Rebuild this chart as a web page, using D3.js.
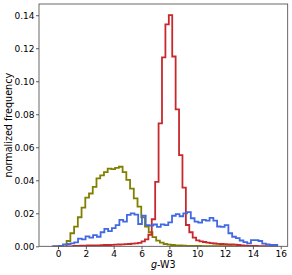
<!DOCTYPE html>
<html>
<head>
<meta charset="utf-8">
<script src="https://cdn.jsdelivr.net/npm/d3@7"></script>
<style>
  html, body { margin: 0; padding: 0; background: #fff; }
  svg { display: block; }
  text { font-family: "DejaVu Sans", sans-serif; fill: #000; }
</style>
</head>
<body>
<svg id="chart" width="292" height="275"></svg>
<script>
// ---- data ----
const xTicks = [0, 2, 4, 6, 8, 10, 12, 14, 16];
const yTicks = [0, 0.02, 0.04, 0.06, 0.08, 0.10, 0.12, 0.14];

// olive histogram
const oliveBinStart = 0.62;
const oliveBinWidth = 0.268;
const oliveValues = [0.0032, 0.0079, 0.0119, 0.0176, 0.0234, 0.0295, 0.0320, 0.0360, 0.0412, 0.0430,
  0.0450, 0.0470, 0.0467, 0.0475, 0.0482, 0.0450, 0.0402, 0.0350, 0.0290, 0.0240,
  0.0176, 0.0119, 0.0085, 0.0055, 0.0034, 0.0022, 0.0014, 0.0010, 0.0008, 0.0006,
  0.0005, 0.0004, 0.0003, 0.0003, 0.0002, 0.0002, 0.0001, 0.0001, 0.0001, 0.0001,
  0.0001, 0.0001, 0.0001, 0.0001, 0.0000, 0.0000];

// red histogram
const redBinStart = -0.37;
const redBinWidth = 0.245;
const redValues = [0, 0, 0, 0, 0, 0, 0.0002, 0.0003, 0.0004, 0.0004,
  0.0005, 0.0005, 0.0006, 0.0006, 0.0007, 0.0008, 0.0008, 0.0009, 0.0010, 0.0011,
  0.0012, 0.0013, 0.0014, 0.0016, 0.0018, 0.0021, 0.0030, 0.0042, 0.0070, 0.0164,
  0.0390, 0.0745, 0.1145, 0.1345, 0.1400, 0.1150, 0.0830, 0.0553, 0.0355, 0.0129,
  0.0085, 0.0052, 0.0036, 0.0030, 0.0026, 0.0022, 0.0019, 0.0017, 0.0015, 0.0014,
  0.0013, 0.0012, 0.0011, 0.0010, 0.0008, 0.0006, 0.0004, 0.0003, 0.0002, 0.0002,
  0.0001, 0.0001, 0.0001, 0, 0, 0];

// blue histogram
const blueBinStart = -0.45;
const blueBinWidth = 0.27;
const blueValues = [0, 0, 0.0003, 0.0012, 0.0014, 0.0018, 0.0024, 0.0046, 0.0042, 0.0060,
  0.0052, 0.0068, 0.0058, 0.0085, 0.0105, 0.0092, 0.0110, 0.0128, 0.0160, 0.0150,
  0.0190, 0.0200, 0.0192, 0.0135, 0.0186, 0.0128, 0.0125, 0.0132, 0.0118, 0.0133,
  0.0128, 0.0145, 0.0185, 0.0195, 0.0182, 0.0200, 0.0207, 0.0170, 0.0150, 0.0143,
  0.0160, 0.0155, 0.0172, 0.0155, 0.0120, 0.0118, 0.0128, 0.0079, 0.0058, 0.0050,
  0.0035, 0.0025, 0.0018, 0.0038, 0.0038, 0.0032, 0.0016, 0.0012, 0.0008, 0.0008];

// ---- layout ----
const W = 292, H = 275;
const margin = { left: 39, top: 4, right: 4.3, bottom: 28.7 };
const svg = d3.select("#chart");

const x = d3.scaleLinear().domain([-1.365, 16.50]).range([margin.left, W - margin.right]);
const y = d3.scaleLinear().domain([0, 0.1468]).range([H - margin.bottom, margin.top]);

svg.append("defs").append("clipPath").attr("id", "clip")
  .append("rect")
  .attr("x", margin.left).attr("y", margin.top)
  .attr("width", W - margin.left - margin.right)
  .attr("height", H - margin.top - margin.bottom);

function stepPoints(start, width, values) {
  const pts = [];
  pts.push([start, 0]);
  values.forEach((v, i) => {
    pts.push([start + i * width, v]);
    pts.push([start + (i + 1) * width, v]);
  });
  pts.push([start + values.length * width, 0]);
  return pts;
}

const line = d3.line().x(d => x(d[0])).y(d => y(d[1]));

const series = [
  { start: oliveBinStart, width: oliveBinWidth, values: oliveValues, color: "#808000" },
  { start: redBinStart, width: redBinWidth, values: redValues, color: "#c8282d" },
  { start: blueBinStart, width: blueBinWidth, values: blueValues, color: "#4169e1" }
];

const g = svg.append("g").attr("clip-path", "url(#clip)");
series.forEach(s => {
  g.append("path")
    .attr("d", line(stepPoints(s.start, s.width, s.values)))
    .attr("fill", "none")
    .attr("stroke", s.color)
    .attr("stroke-width", 1.8)
    .attr("stroke-linejoin", "miter");
});

// axes
const xAxis = d3.axisBottom(x).tickValues(xTicks).tickSize(3).tickPadding(1.5).tickFormat(d3.format("d"));
const yAxis = d3.axisLeft(y).tickValues(yTicks).tickSize(3).tickPadding(1.5).tickFormat(d3.format(".2f"));

const gx = svg.append("g").attr("transform", `translate(0,${H - margin.bottom})`).call(xAxis);
const gy = svg.append("g").attr("transform", `translate(${margin.left},0)`).call(yAxis);
[gx, gy].forEach(a => {
  a.select(".domain").remove();
  a.selectAll(".tick line").attr("stroke", "#333").attr("stroke-width", 0.8);
  a.selectAll(".tick text").attr("font-size", 9).attr("font-family", "DejaVu Sans").attr("fill", "#000");
});

// frame
svg.append("rect")
  .attr("x", margin.left).attr("y", margin.top)
  .attr("width", W - margin.left - margin.right)
  .attr("height", H - margin.top - margin.bottom)
  .attr("fill", "none").attr("stroke", "#444").attr("stroke-width", 0.8);

// labels
const xl = svg.append("text")
  .attr("x", (margin.left + W - margin.right) / 2)
  .attr("y", 268)
  .attr("text-anchor", "middle")
  .attr("font-size", 9.6);
xl.append("tspan").attr("font-style", "italic").text("g");
xl.append("tspan").text("-W3");

svg.append("text")
  .attr("transform", `translate(12,${(margin.top + H - margin.bottom) / 2}) rotate(-90)`)
  .attr("text-anchor", "middle")
  .attr("font-size", 9.6)
  .text("normalized frequency");
</script>
</body>
</html>
